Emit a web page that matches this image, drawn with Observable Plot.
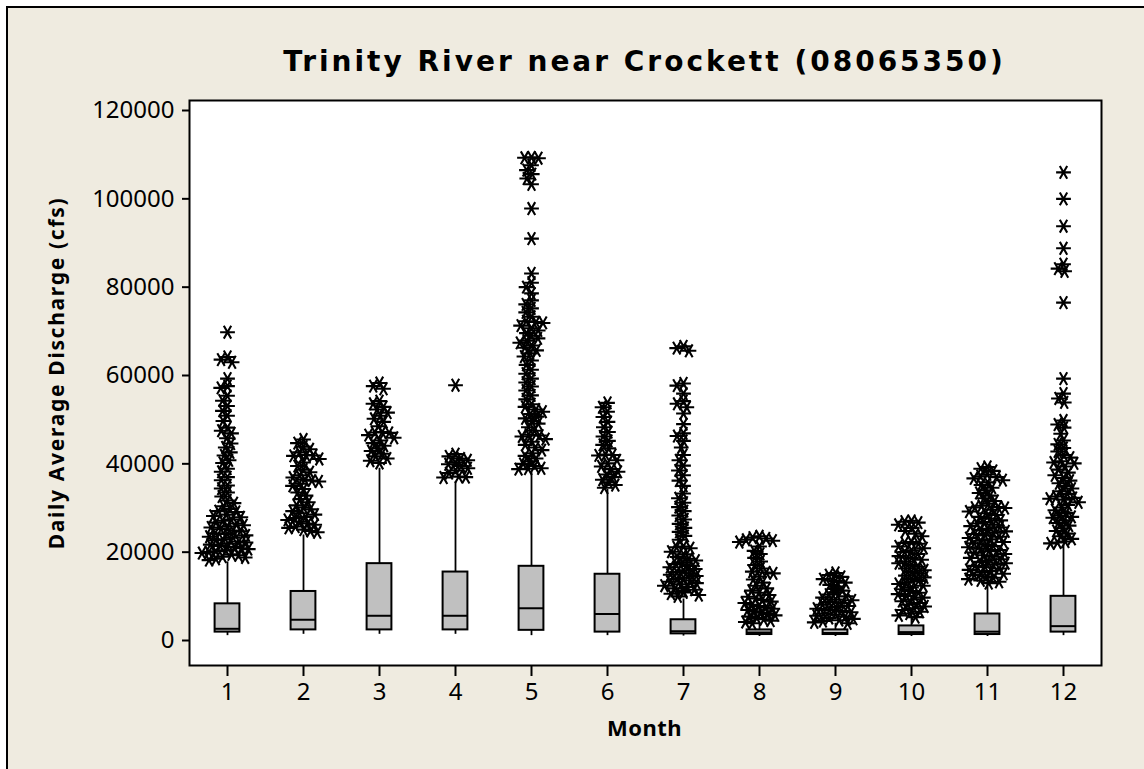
<!DOCTYPE html>
<html><head><meta charset="utf-8">
<script src="https://cdn.jsdelivr.net/npm/d3@7"></script>
<script src="https://cdn.jsdelivr.net/npm/@observablehq/plot@0.6"></script>
<style>
html,body{margin:0;padding:0;background:#fff;width:1144px;height:769px;overflow:hidden;font-family:"Noto Sans",sans-serif;color:#000;}
#bg{position:absolute;left:6px;top:6px;width:1200px;height:800px;border:2px solid #000;background:#efebe0;box-sizing:border-box;}
#title{position:absolute;left:187px;width:915px;top:47px;text-align:center;font-family:"DejaVu Sans",sans-serif;font-weight:bold;font-size:28px;line-height:30px;letter-spacing:3px;white-space:nowrap;}
#chart{position:absolute;left:0;top:80px;}
#ylab{position:absolute;left:-194px;width:500px;top:360px;text-align:center;font-weight:bold;font-size:21px;line-height:26px;transform:rotate(-90deg);letter-spacing:1.7px;white-space:nowrap;}
#xlab{position:absolute;left:187px;width:915px;top:714px;text-align:center;font-weight:bold;font-size:22px;line-height:26px;letter-spacing:0.5px;}
</style>
</head><body>
<div id="bg"></div>
<div id="title">Trinity River near Crockett (08065350)</div>
<div id="chart"></div>
<div id="ylab">Daily Average Discharge (cfs)</div>
<div id="xlab">Month</div>
<script>
const months = [1,2,3,4,5,6,7,8,9,10,11,12];
const yTicks = [0,20000,40000,60000,80000,100000,120000];
const whiskerLow = [1100,1400,1400,1400,1100,1100,1000,900,900,900,900,1100];
const q1 = [1900,2400,2400,2400,2300,1900,1500,1350,1350,1350,1350,1900];
const median = [2650,4700,5600,5600,7300,6000,2100,1800,1700,1900,2000,3250];
const q3 = [8300,11100,17400,15500,16800,15000,4700,2400,2400,3300,6000,10000];
const whiskerHigh = [17800,23900,39000,35900,38000,34200,9400,3900,3900,6000,12800,21600];

const out1 = [69800,64200,63600,63000,59300,57600,57200,55400,54300,53100,52000,50900,49700,48200,47500,46900,45800,44600,43700,42600,41900,40800,40200,38900,38200,37000,36300,35100,34400,33500,32600,31700,31100,30400,29800,29300,29100,28500,28200,27900,27400,27100,26700,26500,26100,25800,25600,25200,24900,24700,24300,24100,23800,23500,23300,22900,22700,22400,22200,21900,21700,21400,21200,20900,20700,20400,20200,20000,19800,19500,19300,19000,18800,18500,18200];
const out2 = [45500,44700,43900,43300,42600,42000,41900,41800,41100,40300,39500,38700,38100,37400,36900,36400,36200,36000,35500,35000,34300,33500,32800,32000,31300,30600,30100,29700,29300,28800,28500,28000,27700,27300,26900,26500,26200,25800,25500,25100,24800,24500];
const out3 = [58300,57600,57000,54200,53600,52900,52300,51600,50900,50200,49500,48500,47200,47100,47000,46500,45900,45300,44700,44100,43500,42900,42300,41700,41200,40700,40200];
const out4 = [57800,42200,41700,41200,40800,40300,39900,39500,39000,38500,37900,37100,37000,36900];
const out5 = [109400,109300,109200,107600,106500,105600,104600,103300,97800,91000,83100,81000,80000,78600,77000,76100,75200,74300,73300,72300,72100,71900,71300,70700,70200,69600,69000,68400,67900,67400,66800,66300,65700,65000,64300,63400,62400,61300,60400,59300,58400,57500,56600,55500,54600,53500,52900,52300,51800,51300,50700,50300,49700,49100,48300,47500,46600,46400,46200,45600,45000,44300,43700,43100,42400,41800,41200,40600,40000,39500,39000,38900,38800];
const out6 = [53800,52800,51800,50600,49500,48300,47200,46200,45200,44300,43500,42100,42000,41900,40800,40100,39400,38800,38200,37600,37000,36400,35800,35200,34600];
const out7 = [66600,66200,65600,58200,57700,55900,54200,53600,52800,51400,49000,46900,46300,45200,43700,42000,40800,39600,38500,37400,36200,35000,33300,32200,31200,30200,29300,28300,27400,26400,25500,24600,23700,22800,21300,21100,20900,20100,19500,18900,18500,18100,17700,17300,16900,16600,16200,15900,15500,15200,14900,14600,14200,13900,13600,13300,13000,12700,12400,12100,11800,11500,11200,10900,10600,10300,10000];
const out8 = [23600,23300,23100,22800,22600,22300,21300,20300,19600,18700,17900,17100,16300,15600,15400,15200,14500,13800,13100,12400,11800,11300,10800,10300,9900,9500,9200,8800,8500,8100,7800,7500,7200,6900,6600,6300,6000,5700,5400,5100,4800,4500,4200,3900];
const out9 = [15300,14800,14400,13900,13500,13100,12600,12200,11700,11300,10900,10400,10000,9700,9300,9100,8700,8500,8100,7800,7600,7200,6900,6700,6400,6100,5900,5600,5400,5100,4900,4600,4400,4100,3900];
const out10 = [27100,26900,26700,26200,25500,24800,24200,23600,22300,22100,21900,21300,20900,20400,20000,19600,19100,18700,18300,17900,17500,17100,16700,16300,15900,15500,15100,14700,14300,13900,13500,13100,12800,12400,12000,11600,11200,10800,10500,10100,9700,9300,8900,8500,8100,7700,7300,6900,6500,6100,5700,5300];
const out11 = [39300,38900,38400,37600,37200,37000,36700,36300,35800,35200,34600,34000,33400,32800,32200,31600,31000,30500,30200,30100,30000,29600,29200,28800,28400,28000,27600,27200,26800,26500,26200,25900,25600,25300,25000,24700,24400,24100,23800,23500,23200,22900,22600,22300,22000,21700,21400,21100,20800,20500,20200,19900,19600,19300,19000,18700,18400,18100,17800,17500,17200,16900,16600,16300,16000,15700,15400,15100,14800,14500,14200,13900,13600,13300,13000];
const out12 = [106000,100000,93800,88800,85200,84200,83600,76500,59300,55900,54800,53900,49800,48900,48200,46800,45300,44400,43600,42800,42000,41400,40600,40300,40100,39400,38700,38000,37400,36800,36200,35600,35000,34400,33800,33200,32600,32300,32100,31900,31300,30700,30100,29500,28900,28300,28000,27800,27200,26600,26000,25400,24800,24200,23600,23000,22400,22200,22000];
const outlierLists = [out1,out2,out3,out4,out5,out6,out7,out8,out9,out10,out11,out12];

const boxes = months.map((m, i) => ({month: m, lo: whiskerLow[i], q1: q1[i], median: median[i], q3: q3[i], hi: whiskerHigh[i]}));
const outliers = months.flatMap((m, i) => outlierLists[i].map(v => ({month: m, value: v})));
const inset = 25.6;

const chart = Plot.plot({
  width: 1144, height: 689,
  marginLeft: 187, marginRight: 42, marginTop: 20, marginBottom: 104,
  style: {background: "transparent", fontFamily: "Noto Sans", fontSize: "24px", color: "#000"},
  fx: {domain: months, padding: 0},
  x: {type: "point", domain: ["c"], axis: null},
  y: {domain: [-5660, 122264]},
  marks: [
    Plot.frame({fill: "white", facet: "super"}),
    Plot.ruleX(boxes, {fx: "month", x: () => "c", y1: "lo", y2: "hi", stroke: "black", strokeWidth: 1.8}),
    Plot.barY(boxes, {fx: "month", y1: "q1", y2: "q3", fill: "#c0c0c0", stroke: "black", strokeWidth: 2, insetLeft: inset, insetRight: inset}),
    Plot.tickY(boxes, {fx: "month", y: "median", stroke: "black", strokeWidth: 2, insetLeft: inset, insetRight: inset}),
    Plot.dot(outliers, Plot.dodgeX({anchor: "middle", padding: -7}, {fx: "month", y: "value", r: 7, symbol: "asterisk", rotate: 90, fill: "none", stroke: "black", strokeWidth: 2.1})),
    Plot.axisY(yTicks, {tickSize: 7, tickPadding: 8, tickFormat: "d", strokeWidth: 2, label: null}),
    Plot.axisFx({anchor: "bottom", tickSize: 11, tickPadding: 6, strokeWidth: 2, label: null}),
    Plot.frame({stroke: "black", strokeWidth: 2, facet: "super"})
  ]
});
document.getElementById("chart").appendChild(chart);
</script>
</body></html>
